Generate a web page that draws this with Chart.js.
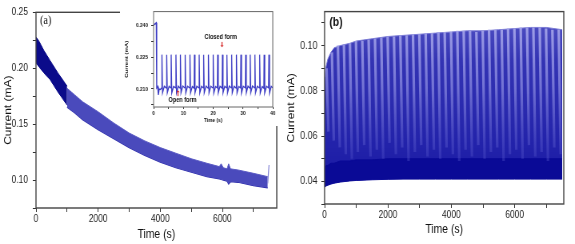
<!DOCTYPE html>
<html>
<head>
<meta charset="utf-8">
<script src="https://cdn.jsdelivr.net/npm/chart.js@4.4.1/dist/chart.umd.min.js"></script>
<style>
  html, body { margin: 0; padding: 0; background: #fff; }
  #wrap { position: relative; width: 575px; height: 244px; overflow: hidden; }
  /* the original figure is squeezed sideways, so every canvas is drawn wider and scaled back */
  canvas { position: absolute; transform: scaleX(0.8); transform-origin: 0 0; }
</style>
</head>
<body>
<div id="wrap">
  <canvas id="chartA" width="362" height="244" style="left:0px;top:0px"></canvas>
  <canvas id="chartB" width="365" height="244" style="left:283px;top:0px"></canvas>
  <canvas id="inset" width="198" height="122" style="left:120px;top:4px"></canvas>
</div>
<script>
// ---- panel (a): envelope of the fast oscillation (mA vs s)
var aDarkTime  = [0, 100, 250, 450, 700, 1000];
var aDarkUpper = [0.228, 0.224, 0.216, 0.207, 0.196, 0.184];
var aDarkLower = [0.205, 0.201, 0.196, 0.190, 0.179, 0.167];

var aTime  = [1000, 1250, 1500, 2000, 2500, 3000, 3500, 4000, 4500, 5000, 5500, 5900, 5960, 6030, 6150, 6200, 6260, 6500, 7000, 7460];
var aUpper = [0.182, 0.176, 0.170, 0.161, 0.151, 0.142, 0.135, 0.129, 0.124, 0.119, 0.115, 0.112, 0.1145, 0.111, 0.110, 0.1145, 0.110, 0.109, 0.106, 0.103];
var aLower = [0.165, 0.160, 0.154, 0.145, 0.137, 0.129, 0.122, 0.116, 0.111, 0.107, 0.103, 0.101, 0.1005, 0.100, 0.099, 0.0965, 0.0985, 0.098, 0.095, 0.093];

var aTailTime    = [7460, 7500];
var aTailCurrent = [0.097, 0.1135];

var timeTicks  = [0, 1000, 2000, 3000, 4000, 5000, 6000, 7000];
var aCurTicks  = [0.075, 0.1, 0.125, 0.15, 0.175, 0.2, 0.225, 0.25];
var bCurTicks  = [0.03, 0.04, 0.05, 0.06, 0.07, 0.08, 0.09, 0.1, 0.11];
var insetTimeTicks = [0, 5, 10, 15, 20, 25, 30, 35, 40];
var insetCurTicks  = [0.2025, 0.21, 0.2175, 0.225, 0.2325, 0.24];

// ---- inset of (a): first 40 s
var insetTime = [0, 0.4, 0.9, 1.05, 1.35, 1.6, 1.9, 2.3,
  2.7, 2.8, 3.0, 3.6,   4.3, 4.4, 4.6, 5.2,   5.8, 5.9, 6.1, 6.7,   7.4, 7.5, 7.7, 8.3,
  8.9, 9.0, 9.2, 9.8,   10.5, 10.6, 10.8, 11.4,   12.1, 12.2, 12.4, 13.0,   13.6, 13.7, 13.9, 14.5,
  15.2, 15.3, 15.5, 16.1,   16.7, 16.8, 17.0, 17.6,   18.3, 18.4, 18.6, 19.2,   19.9, 20.0, 20.2, 20.8,
  21.4, 21.5, 21.7, 22.3,   23.0, 23.1, 23.3, 23.9,   24.5, 24.6, 24.8, 25.4,   26.1, 26.2, 26.4, 27.0,
  27.7, 27.8, 28.0, 28.6,   29.2, 29.3, 29.5, 30.1,   30.8, 30.9, 31.1, 31.7,   32.3, 32.4, 32.6, 33.2,
  33.9, 34.0, 34.2, 34.8,   35.5, 35.6, 35.8, 36.4,   37.0, 37.1, 37.3, 37.9,   38.6, 38.7, 38.9, 39.5,
  40];
var insetCurrent = [0.2400, 0.2406, 0.2412, 0.2105, 0.2112, 0.2072, 0.2100, 0.2098,
  0.2105, 0.2262, 0.2082, 0.2113,   0.2104, 0.2261, 0.2082, 0.2113,   0.2105, 0.2262, 0.2081, 0.2112,   0.2105, 0.2262, 0.2082, 0.2113,
  0.2104, 0.2262, 0.2082, 0.2114,   0.2105, 0.2261, 0.2081, 0.2113,   0.2105, 0.2262, 0.2082, 0.2112,   0.2104, 0.2262, 0.2082, 0.2113,
  0.2105, 0.2262, 0.2081, 0.2113,   0.2105, 0.2261, 0.2082, 0.2114,   0.2104, 0.2262, 0.2082, 0.2113,   0.2105, 0.2262, 0.2081, 0.2112,
  0.2105, 0.2262, 0.2082, 0.2113,   0.2104, 0.2262, 0.2082, 0.2113,   0.2105, 0.2261, 0.2081, 0.2114,   0.2105, 0.2262, 0.2082, 0.2113,
  0.2104, 0.2262, 0.2082, 0.2112,   0.2105, 0.2262, 0.2081, 0.2113,   0.2105, 0.2261, 0.2082, 0.2113,   0.2104, 0.2262, 0.2082, 0.2114,
  0.2105, 0.2262, 0.2081, 0.2113,   0.2105, 0.2262, 0.2082, 0.2112,   0.2104, 0.2261, 0.2082, 0.2113,   0.2105, 0.2262, 0.2081, 0.2113,
  0.2106];

var noteText    = ["Closed form", "Open form"];
var noteTime    = [22.5, 9.7];
var noteCurrent = [0.2344, 0.2047];
var arrowTime   = [22.8, 8.1];
var arrowFrom   = [0.2322, 0.2066];
var arrowTo     = [0.2297, 0.2094];

// ---- panel (b): envelope + spikes
var bTime  = [0, 50, 100, 200, 300, 500, 800, 1000, 1500, 2000, 2500, 3000, 3500, 4000, 4500, 5000, 5500, 6000, 6500, 7000, 7500];
var bUpper = [0.086, 0.091, 0.094, 0.097, 0.099, 0.100, 0.101, 0.102, 0.103, 0.104, 0.1045, 0.105, 0.1055, 0.106, 0.1065, 0.1065, 0.107, 0.1075, 0.108, 0.108, 0.107];
var bLower = [0.0375, 0.038, 0.0383, 0.0388, 0.0392, 0.0397, 0.0402, 0.0404, 0.0407, 0.0409, 0.041, 0.041, 0.041, 0.041, 0.041, 0.041, 0.041, 0.041, 0.041, 0.041, 0.041];
var bDark  = [0.046, 0.047, 0.047, 0.048, 0.048, 0.049, 0.049, 0.0495, 0.0495, 0.050, 0.050, 0.050, 0.050, 0.050, 0.050, 0.050, 0.050, 0.050, 0.050, 0.050, 0.050];

var spikeTime = [60, 230, 420, 610, 800, 990, 1190, 1390, 1590, 1790, 1990, 2190, 2390, 2590, 2790, 2990, 3190, 3390, 3590,
  3790, 3990, 4190, 4390, 4590, 4790, 4990, 5190, 5390, 5590, 5790, 5990, 6190, 6390, 6590, 6790, 6990, 7190, 7390];
var spikeEndTime = [120, 290, 480, 670, 860, 1050, 1250, 1450, 1650, 1850, 2050, 2250, 2450, 2650, 2850, 3050, 3250, 3450, 3650,
  3850, 4050, 4250, 4450, 4650, 4850, 5050, 5250, 5450, 5650, 5850, 6050, 6250, 6450, 6650, 6850, 7050, 7250, 7450];
var spikePeak = [0.090, 0.097, 0.100, 0.1005, 0.101, 0.102, 0.102, 0.1025, 0.103, 0.1035, 0.104, 0.104, 0.1045, 0.1045, 0.105, 0.105, 0.1055, 0.1055, 0.106,
  0.106, 0.106, 0.1065, 0.1065, 0.1065, 0.106, 0.1065, 0.107, 0.107, 0.107, 0.1075, 0.1075, 0.108, 0.108, 0.108, 0.108, 0.1075, 0.107, 0.107];
var spikeTip  = [0.062, 0.058, 0.055, 0.052, 0.050, 0.053, 0.056, 0.051, 0.054, 0.050, 0.057, 0.052, 0.055, 0.049, 0.053, 0.056, 0.051, 0.054, 0.050,
  0.055, 0.052, 0.049, 0.054, 0.051, 0.056, 0.050, 0.053, 0.055, 0.049, 0.052, 0.054, 0.050, 0.056, 0.051, 0.053, 0.049, 0.055, 0.052];

var sans = '"Liberation Sans", Arial, sans-serif';

function pts(xs, ys) {
  return xs.map(function(x, i) { return { x: x, y: ys[i] }; });
}

function isMajor(v, every) {
  return Math.abs(v / every - Math.round(v / every)) < 1e-6;
}

// axis with minor ticks (unlabelled) between the labelled ones
function axis(opt) {
  return {
    type: "linear",
    min: opt.min,
    max: opt.max,
    afterFit: function(s) {
      if (s.isHorizontal()) s.height = opt.size; else s.width = opt.size;
    },
    afterBuildTicks: function(s) {
      s.ticks = opt.ticks.map(function(v) { return { value: v }; });
    },
    border: { display: false },
    grid: { drawOnChartArea: false, drawTicks: true, tickLength: opt.tickLen, color: "#333", lineWidth: 1 },
    ticks: {
      autoSkip: false,
      maxRotation: 0,
      minRotation: 0,
      padding: opt.tickPad,
      color: "#222",
      font: { family: sans, size: opt.font, weight: opt.bold ? "bold" : "normal" },
      callback: function(v) { return isMajor(v, opt.every) ? Number(v).toFixed(opt.digits) : ""; }
    },
    title: {
      display: true,
      text: opt.title,
      color: "#111",
      padding: opt.titlePad,
      font: { family: sans, size: opt.titleSize, weight: opt.bold ? "bold" : "normal" }
    }
  };
}

var boxPlugin = {
  id: "box",
  afterDraw: function(chart, args, o) {
    var a = chart.chartArea, ctx = chart.ctx;
    ctx.save();
    ctx.strokeStyle = o.color;
    ctx.lineWidth = o.width;
    ctx.strokeRect(a.left, a.top, a.right - a.left, a.bottom - a.top);
    if (o.label) {
      ctx.font = o.font;
      ctx.fillStyle = "#111";
      ctx.textBaseline = "middle";
      ctx.fillText(o.label, a.left + o.lx, a.top + o.ly);
    }
    ctx.restore();
  }
};

var base = {
  responsive: false,
  animation: false,
  events: [],
  elements: { point: { radius: 0 }, line: { tension: 0 } },
  plugins: { legend: { display: false }, tooltip: { enabled: false } }
};

// Panel (a)
new Chart(document.getElementById("chartA"), {
  type: "line",
  data: {
    datasets: [
      { data: pts(aTailTime, aTailCurrent), borderColor: "#8c8cd8", borderWidth: 1.2, fill: false, order: 0 },
      { data: pts(aDarkTime, aDarkUpper), borderColor: "#0b0b8a", borderWidth: 1, backgroundColor: "#0b0b8a", fill: 2, order: 1 },
      { data: pts(aDarkTime, aDarkLower), borderColor: "#0b0b8a", borderWidth: 1, fill: false, order: 1 },
      { data: pts(aTime, aUpper), borderColor: "#5a5ac4", borderWidth: 1, backgroundColor: "#4a4abc", fill: 4, order: 2 },
      { data: pts(aTime, aLower), borderColor: "#2c2caa", borderWidth: 1.2, fill: false, order: 2 }
    ]
  },
  options: Object.assign({}, base, {
    layout: { padding: { top: 7, right: 16, left: 0, bottom: 0 } },
    scales: {
      x: axis({ min: 0, max: 7750, ticks: timeTicks, every: 2000, digits: 0, size: 36, tickLen: 4, tickPad: 1,
                font: 10.5, title: "Time (s)", titleSize: 13, titlePad: { top: 2, bottom: 2 } }),
      y: axis({ min: 0.075, max: 0.25, ticks: aCurTicks, every: 0.05, digits: 2, size: 45, tickLen: 4, tickPad: 6,
                font: 10.5, title: "Current (mA)", titleSize: 12, titlePad: { top: 3, bottom: 1 } })
    },
    plugins: Object.assign({}, base.plugins, {
      box: { color: "#444", width: 1.4, label: "(a)", font: '13px "Liberation Serif", serif', lx: 5, ly: 8 }
    })
  }),
  plugins: [boxPlugin]
});

// Panel (b)
function bandFill(ctx) {
  var a = ctx.chart.chartArea;
  if (!a) return "#2a2aa8";
  var g = ctx.chart.ctx.createLinearGradient(0, a.top, 0, a.bottom);
  g.addColorStop(0, "#5656c6");
  g.addColorStop(0.25, "#3434b4");
  g.addColorStop(0.7, "#2222aa");
  g.addColorStop(1, "#1414a0");
  return g;
}
function streakColor(ctx) {
  var a = ctx.chart.chartArea;
  if (!a) return "#7c7cd4";
  var g = ctx.chart.ctx.createLinearGradient(0, a.top, 0, a.bottom);
  g.addColorStop(0, "rgba(175,175,238,0.95)");
  g.addColorStop(0.4, "rgba(125,125,218,0.85)");
  g.addColorStop(0.75, "rgba(80,80,200,0.4)");
  return g;
}
var streaks = [];
spikeTime.forEach(function(t, i) {
  streaks.push({ x: t, y: spikePeak[i] }, { x: spikeEndTime[i], y: spikeTip[i] }, { x: spikeEndTime[i], y: null });
});

new Chart(document.getElementById("chartB"), {
  type: "line",
  data: {
    datasets: [
      { data: streaks, borderColor: streakColor, borderWidth: 3.2, fill: false, spanGaps: false, order: 0 },
      { data: pts(bTime, bDark), borderColor: "#0a0a96", borderWidth: 1, backgroundColor: "#0a0a96", fill: 3, order: 1 },
      { data: pts(bTime, bUpper), borderColor: "#7a7ad4", borderWidth: 1, backgroundColor: bandFill, fill: 3, order: 2 },
      { data: pts(bTime, bLower), borderColor: "#0a0a96", borderWidth: 1, fill: false, order: 2 }
    ]
  },
  options: Object.assign({}, base, {
    layout: { padding: { top: 9, right: 14, left: 0, bottom: 0 } },
    scales: {
      x: axis({ min: 0, max: 7550, ticks: timeTicks, every: 2000, digits: 0, size: 40, tickLen: 4, tickPad: 1,
                font: 10.5, title: "Time (s)", titleSize: 13, titlePad: { top: 2, bottom: 7 } }),
      y: axis({ min: 0.03, max: 0.115, ticks: bCurTicks, every: 0.02, digits: 2, size: 52, tickLen: 4, tickPad: 5,
                font: 11, title: "Current (mA)", titleSize: 12, titlePad: { top: 3, bottom: 1 } })
    },
    plugins: Object.assign({}, base.plugins, {
      box: { color: "#444", width: 1.4, label: "(b)", font: "bold 13px " + sans, lx: 6, ly: 11 }
    })
  }),
  plugins: [boxPlugin]
});

// Inset of (a)
var notesPlugin = {
  id: "notes",
  afterDatasetsDraw: function(chart) {
    var ctx = chart.ctx, x = chart.scales.x, y = chart.scales.y;
    ctx.save();
    ctx.font = "bold 7px " + sans;
    ctx.fillStyle = "#111";
    ctx.textAlign = "center";
    ctx.textBaseline = "middle";
    noteText.forEach(function(t, i) {
      ctx.fillText(t, x.getPixelForValue(noteTime[i]), y.getPixelForValue(noteCurrent[i]));
    });
    ctx.strokeStyle = "#d42020";
    ctx.fillStyle = "#d42020";
    ctx.lineWidth = 1.2;
    arrowTime.forEach(function(t, i) {
      var px = Math.round(x.getPixelForValue(t)) + 0.5;
      var y0 = y.getPixelForValue(arrowFrom[i]), y1 = y.getPixelForValue(arrowTo[i]);
      var dir = y1 > y0 ? 1 : -1;
      ctx.beginPath();
      ctx.moveTo(px, y0);
      ctx.lineTo(px, y1 - dir * 2);
      ctx.stroke();
      ctx.beginPath();
      ctx.moveTo(px - 2, y1 - dir * 2);
      ctx.lineTo(px + 2, y1 - dir * 2);
      ctx.lineTo(px, y1);
      ctx.closePath();
      ctx.fill();
    });
    ctx.restore();
  }
};

var insetBg = {
  id: "insetBg",
  beforeDraw: function(chart) {
    var ctx = chart.ctx;
    ctx.save();
    ctx.fillStyle = "#fff";
    ctx.fillRect(0, 0, chart.width, chart.height);
    ctx.restore();
  }
};

new Chart(document.getElementById("inset"), {
  type: "line",
  data: {
    datasets: [
      { data: pts(insetTime, insetCurrent), borderColor: "#3c3cc4", borderWidth: 1.3, fill: false }
    ]
  },
  options: Object.assign({}, base, {
    layout: { padding: { top: 7, right: 7, left: 0, bottom: 0 } },
    scales: {
      x: axis({ min: 0, max: 40, ticks: insetTimeTicks, every: 10, digits: 0, size: 19, tickLen: 2, tickPad: 1,
                font: 6, bold: true, title: "Time (s)", titleSize: 6, titlePad: { top: 1, bottom: 2 } }),
      y: axis({ min: 0.2015, max: 0.2465, ticks: insetCurTicks, every: 0.015, digits: 3, size: 42, tickLen: 3, tickPad: 4,
                font: 6, bold: true, title: "Current (mA)", titleSize: 6, titlePad: { top: 5, bottom: 1 } })
    },
    plugins: Object.assign({}, base.plugins, {
      box: { color: "#666", width: 1 }
    })
  }),
  plugins: [insetBg, boxPlugin, notesPlugin]
});
</script>
</body>
</html>
